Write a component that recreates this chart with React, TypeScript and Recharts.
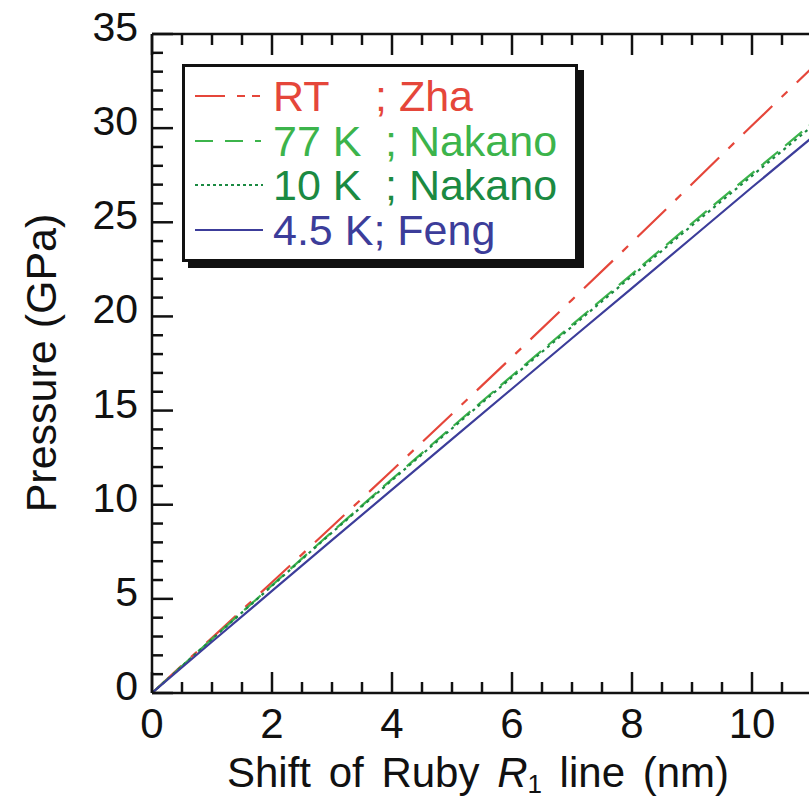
import React from 'react';
import { LineChart, Line, XAxis, YAxis, Legend, Label } from 'recharts';

// ruby R1 shift (nm) and pressure (GPa)
const shiftNm = [0, 1, 2, 3, 4, 5, 6, 7, 8, 9, 10, 11];
const pZhaRT = [0, 2.93, 5.88, 8.84, 11.82, 14.82, 17.84, 20.88, 23.94, 27.03, 30.14, 33.2];
const pNakano77K = [0, 2.87, 5.72, 8.56, 11.36, 14.12, 16.85, 19.55, 22.25, 24.95, 27.6, 30.25];
const pNakano10K = [0, 2.86, 5.69, 8.52, 11.3, 14.05, 16.77, 19.46, 22.15, 24.83, 27.47, 30.1];
const pFeng45K = [0, 2.72, 5.42, 8.12, 10.8, 13.48, 16.16, 18.84, 21.5, 24.18, 26.86, 29.5];

const xTicks = [0, 0.5, 1, 1.5, 2, 2.5, 3, 3.5, 4, 4.5, 5, 5.5, 6, 6.5, 7, 7.5, 8, 8.5, 9, 9.5, 10, 10.5, 11];
const xLabels = [0, 2, 4, 6, 8, 10];
const yTicks = [
  0, 1, 2, 3, 4, 5, 6, 7, 8, 9, 10, 11, 12, 13, 14, 15, 16, 17, 18, 19, 20,
  21, 22, 23, 24, 25, 26, 27, 28, 29, 30, 31, 32, 33, 34, 35,
];
const yLabels = [0, 5, 10, 15, 20, 25, 30, 35];

const FONT = '"Liberation Sans", Arial, Helvetica, sans-serif';
const INK = '#111';

const series = [
  { key: 'rt', temp: 'RT', ref: '; Zha', refX: 193, color: '#e5463a', dash: '40 13 8 13', legendDash: '30 12 8 7 8 3', values: pZhaRT },
  { key: 'k77', temp: '77 K', ref: '; Nakano', refX: 203, color: '#3cb44b', dash: '22 9', legendDash: '18 12 18 12 6', values: pNakano77K },
  { key: 'k10', temp: '10 K', ref: '; Nakano', refX: 203, color: '#1b8a42', dash: '3 4', legendDash: '3 3', values: pNakano10K },
  { key: 'k45', temp: '4.5 K; Feng', ref: '', refX: 0, color: '#3c3d9a', dash: undefined, legendDash: undefined, values: pFeng45K },
];

const data = shiftNm.map((x, i) => {
  const row: Record<string, number> = { x };
  series.forEach((s) => { row[s.key] = s.values[i]; });
  return row;
});

const BottomTick = ({ x, y, payload }: any) => {
  const major = xLabels.includes(payload.value);
  return (
    <g>
      <line x1={x} x2={x} y1={y} y2={y - (major ? 21 : 11)} stroke={INK} strokeWidth={2.5} />
      {major && (
        <text x={x} y={y + 45} textAnchor="middle" fontSize={42} fontFamily={FONT} fill={INK}>
          {payload.value}
        </text>
      )}
    </g>
  );
};

const TopTick = ({ x, y, payload }: any) => {
  const major = xLabels.includes(payload.value);
  return <line x1={x} x2={x} y1={y} y2={y + (major ? 21 : 11)} stroke={INK} strokeWidth={2.5} />;
};

const LeftTick = ({ x, y, payload }: any) => {
  const major = yLabels.includes(payload.value);
  return (
    <g>
      <line x1={x} x2={x + (major ? 21 : 11)} y1={y} y2={y} stroke={INK} strokeWidth={2.5} />
      {major && (
        <text x={x - 14} y={y - 7} textAnchor="end" dominantBaseline="central" fontSize={41} fontFamily={FONT} fill={INK}>
          {payload.value}
        </text>
      )}
    </g>
  );
};

const RightTick = ({ x, y, payload }: any) => {
  const major = yLabels.includes(payload.value);
  return <line x1={x} x2={x - (major ? 21 : 11)} y1={y} y2={y} stroke={INK} strokeWidth={2.5} />;
};

const baselines = [47, 92, 136, 181];

const renderLegend = () => (
  <div
    style={{
      position: 'relative',
      width: 390,
      height: 192,
      border: `3px solid ${INK}`,
      boxShadow: `6px 6px 0 ${INK}`,
      background: '#fff',
    }}
  >
    <svg width={396} height={198} style={{ position: 'absolute', left: -3, top: -3, overflow: 'visible' }}>
      {series.map((s, i) => (
        <g key={s.key}>
          <line
            x1={13}
            x2={81}
            y1={baselines[i] - 15}
            y2={baselines[i] - 15}
            stroke={s.color}
            strokeWidth={2.2}
            strokeDasharray={s.legendDash}
          />
          <text x={91} y={baselines[i]} fontSize={43} fontFamily={FONT} fill={s.color}>
            {s.temp}
          </text>
          {s.ref && (
            <text x={s.refX} y={baselines[i]} fontSize={43} fontFamily={FONT} fill={s.color}>
              {s.ref}
            </text>
          )}
        </g>
      ))}
    </svg>
  </div>
);

export default function App() {
  return (
    <div style={{ position: 'absolute', left: 0, top: 0, width: 809, height: 799, overflow: 'hidden', background: '#fff' }}>
      <LineChart width={820} height={799} data={data} margin={{ top: 33, right: 7, bottom: 105, left: 151 }}>
        <XAxis
          dataKey="x"
          type="number"
          domain={[0, 11]}
          ticks={xTicks}
          interval={0}
          height={1}
          tickSize={0}
          tickMargin={0}
          tickLine={false}
          tick={<BottomTick />}
          axisLine={{ stroke: INK, strokeWidth: 2.5 }}
          allowDataOverflow
        >
          <Label
            content={() => (
              <text x={478} y={787} textAnchor="middle" fontSize={42} fontFamily={FONT} fill={INK} style={{ wordSpacing: '6px' }}>
                Shift of Ruby <tspan fontStyle="italic">R</tspan>
                <tspan fontSize={26} dy={6}>1</tspan>
                <tspan dy={-6}> line (nm)</tspan>
              </text>
            )}
          />
        </XAxis>
        <XAxis
          xAxisId="top"
          orientation="top"
          dataKey="x"
          type="number"
          domain={[0, 11]}
          ticks={xTicks}
          interval={0}
          height={1}
          tickSize={0}
          tickMargin={0}
          tickLine={false}
          tick={<TopTick />}
          axisLine={{ stroke: INK, strokeWidth: 2.5 }}
        />
        <YAxis
          yAxisId="left"
          type="number"
          domain={[0, 35]}
          ticks={yTicks}
          interval={0}
          width={1}
          tickSize={0}
          tickMargin={0}
          tickLine={false}
          tick={<LeftTick />}
          axisLine={{ stroke: INK, strokeWidth: 2.5 }}
        >
          <Label
            content={() => (
              <text
                x={41}
                y={363}
                transform="rotate(-90 41 363)"
                textAnchor="middle"
                dominantBaseline="central"
                fontSize={43}
                fontFamily={FONT}
                fill={INK}
              >
                Pressure (GPa)
              </text>
            )}
          />
        </YAxis>
        <YAxis
          yAxisId="right"
          orientation="right"
          type="number"
          domain={[0, 35]}
          ticks={yTicks}
          interval={0}
          width={1}
          tickSize={0}
          tickMargin={0}
          tickLine={false}
          tick={<RightTick />}
          axisLine={{ stroke: INK, strokeWidth: 2.5 }}
        />
        <Legend
          layout="vertical"
          align="center"
          verticalAlign="middle"
          content={renderLegend}
          wrapperStyle={{ left: 182, top: 64, width: 396, height: 198 }}
        />
        {series.map((s) => (
          <Line
            key={s.key}
            yAxisId="left"
            type="linear"
            dataKey={s.key}
            stroke={s.color}
            strokeWidth={2.2}
            strokeDasharray={s.dash}
            dot={false}
            isAnimationActive={false}
          />
        ))}
      </LineChart>
    </div>
  );
}
